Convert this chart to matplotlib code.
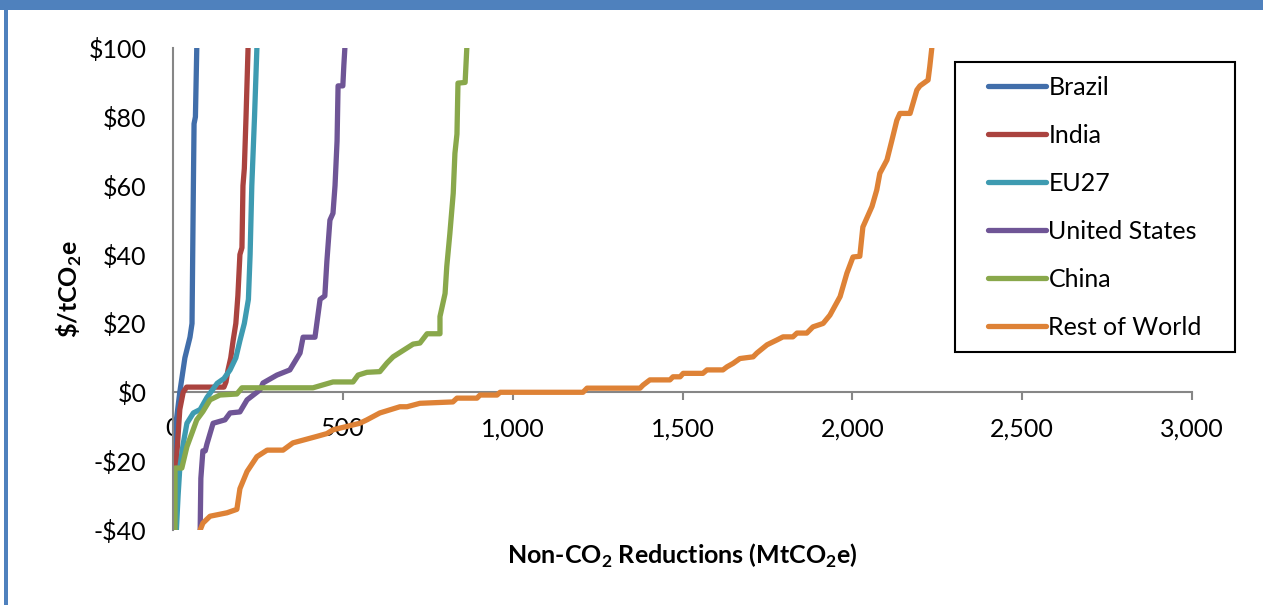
import matplotlib
matplotlib.use("Agg")
import matplotlib.pyplot as plt
from matplotlib.patches import Rectangle
from matplotlib.ticker import FuncFormatter

plt.rcParams['font.family'] = ['Lato', 'DejaVu Sans']
plt.rcParams['mathtext.fontset'] = 'custom'
plt.rcParams['mathtext.rm'] = 'Lato'
plt.rcParams['mathtext.bf'] = 'Lato:bold'

# ---- data (MtCO2e reductions, $/tCO2e) ----
brazil_x = [0, 5, 10, 20, 35, 50, 56, 58, 60, 62, 66, 70]
brazil_y = [-40, -20, -8, 0, 10, 16, 20, 40, 60, 78, 80, 100]

india_x = [3, 10, 20, 30, 40, 60, 100, 150, 156, 162, 170, 177, 185, 191, 197, 203, 206, 210, 215, 221]
india_y = [-40, -20, -5, 0, 1.5, 1.5, 1.5, 1.5, 3, 6.5, 10, 15, 20, 28, 40, 42, 60, 65, 80, 100]

eu_x = [10, 15, 20, 30, 41, 60, 80, 100, 130, 150, 168, 185, 197, 210, 222, 227, 232, 240, 247]
eu_y = [-40, -30, -22, -15, -9, -6, -5, -1.5, 2.6, 4, 6.5, 10, 15, 20, 27, 40, 60, 80, 100]

us_x = [80, 82, 88, 95, 100, 118, 153, 168, 197, 218, 256, 265, 306, 344, 374, 383, 418,
        433, 447, 453, 462, 471, 477, 483, 486, 500, 503, 506]
us_y = [-40, -25, -17, -17, -15, -9, -8, -6, -5.7, -2.2, 0.7, 2.7, 5, 6.5, 11.4, 16, 16,
        27, 28, 38, 50, 52, 60, 73, 89, 89, 95, 100]

china_x = [6, 6, 26, 41, 56, 70, 88, 109, 138, 188, 203, 412, 471, 530, 545, 571, 609, 630, 648,
           707, 727, 748, 786, 786, 801, 806, 815, 825, 830, 836, 839, 860, 865]
china_y = [-40, -22, -22, -15.8, -11.8, -8, -5.6, -2.2, -0.8, -0.5, 1.3, 1.3, 3, 3, 5, 5.8, 6, 8.5, 10.3,
           14, 14.3, 17, 17, 22, 28.7, 36.5, 46, 57.8, 69.4, 75, 89.8, 90, 100]

row_x = [80, 88, 109, 159, 188, 197, 218, 247, 277, 324, 353, 424, 453, 471, 550, 571, 609, 668, 689,
         727, 824, 836, 895, 904, 954, 963, 1207, 1219, 1375, 1384, 1404, 1463, 1472, 1493, 1502,
         1560, 1572, 1619, 1631, 1649, 1669, 1708, 1719, 1749, 1778, 1796, 1825, 1837, 1866, 1884,
         1914, 1934, 1964, 1984, 2002, 2022, 2031, 2058, 2072, 2081, 2102, 2116, 2131, 2140, 2170,
         2190, 2199, 2223, 2228, 2234]
row_y = [-40, -38, -36, -35, -34, -28, -23, -18.7, -16.8, -16.8, -14.7, -12.8, -12, -10.9, -9, -8,
         -6, -4.2, -4.2, -3.2, -2.8, -1.7, -1.7, -0.8, -0.8, 0, 0, 1.2, 1.2, 2.1, 3.6, 3.6, 4.5, 4.5,
         5.5, 5.5, 6.5, 6.5, 7.4, 8.4, 9.8, 10.3, 11.4, 13.8, 15.2, 16.1, 16.1, 17.2, 17.2, 19, 20,
         22.4, 27.8, 34.6, 39.3, 39.5, 48, 54, 58.8, 63.6, 67.5, 73, 79, 81, 81, 87.8, 89, 90.7,
         94.6, 100]

series_names = ["Brazil", "India", "EU27", "United States", "China", "Rest of World"]
series_x = [brazil_x, india_x, eu_x, us_x, china_x, row_x]
series_y = [brazil_y, india_y, eu_y, us_y, china_y, row_y]
series_colors = ["#416EAA", "#AA433F", "#3E9BB1", "#6F5596", "#89A84B", "#DE8236"]

x_ticks = [0, 500, 1000, 1500, 2000, 2500, 3000]
y_ticks = [-40, -20, 0, 20, 40, 60, 80, 100]

W, H = 1263, 605
FS = 18

# ---- figure ----
fig = plt.figure(figsize=(W / 100, H / 100), dpi=100)
# blue frame
fig.patches.append(Rectangle((0, 1 - 10 / H), 1, 10 / H, transform=fig.transFigure,
                             facecolor="#4F81BD", edgecolor="none", zorder=0))
fig.patches.append(Rectangle((4 / W, 0), 4 / W, 1, transform=fig.transFigure,
                             facecolor="#4F81BD", edgecolor="none", zorder=0))

ax = fig.add_axes([173 / W, 1 - 530 / H, (1192 - 173) / W, (530 - 48) / H])
for name, xs, ys, c in zip(series_names, series_x, series_y, series_colors):
    ax.plot(xs, ys, color=c, lw=3.8, label=name, solid_capstyle='round', solid_joinstyle='round')

ax.set_xlim(0, 3000)
ax.set_ylim(-40, 100)
ax.set_xticks(x_ticks)
ax.set_yticks(y_ticks)
ax.xaxis.set_major_formatter(FuncFormatter(lambda v, p: f"{int(v):,}"))
ax.yaxis.set_major_formatter(FuncFormatter(lambda v, p: f"-${abs(int(v))}" if v < 0 else f"${int(v)}"))

for s in ["top", "right"]:
    ax.spines[s].set_visible(False)
ax.spines["bottom"].set_position(("data", 0))
for s in ["bottom", "left"]:
    ax.spines[s].set_color("#868686")
    ax.spines[s].set_linewidth(1.5)
ax.spines["bottom"].set_zorder(1)

ax.tick_params(axis="x", direction="out", length=6, width=1.5, color="#868686",
               labelsize=FS, pad=12)
ax.tick_params(axis="y", length=0, labelsize=FS, pad=19)

ax.set_ylabel(r"\$/tCO$_\mathbf{2}$e", fontsize=FS, fontweight="bold", labelpad=3)
ax.set_xlabel(r"Non-CO$_\mathbf{2}$ Reductions (MtCO$_\mathbf{2}$e)", fontsize=FS,
              fontweight="bold", labelpad=73)

# legend box (drawn separately to match the wide frame)
fig.patches.append(Rectangle((955 / W, 1 - 352 / H), (1235 - 955) / W, (352 - 62) / H,
                             transform=fig.transFigure, facecolor="white", edgecolor="black",
                             linewidth=1.5, zorder=5))
leg = fig.legend(*ax.get_legend_handles_labels(), loc="upper left",
                 bbox_to_anchor=(988 / W, 1 - 76 / H), bbox_transform=fig.transFigure,
                 fontsize=FS, frameon=False, handlelength=2.3, handletextpad=0.12,
                 labelspacing=1.0, borderpad=0, borderaxespad=0)
leg.set_zorder(6)

fig.savefig("out.png", dpi=100)
